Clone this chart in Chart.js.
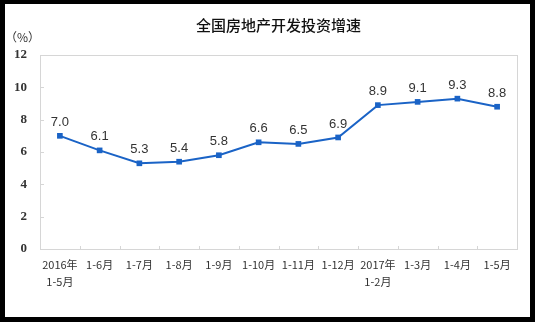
<!DOCTYPE html>
<html>
<head>
<meta charset="utf-8">
<script src="https://cdn.jsdelivr.net/npm/chart.js@4.4.1/dist/chart.umd.min.js"></script>
<style>
  html, body { margin: 0; padding: 0; background: #000; }
  #frame { position: absolute; left: 5px; top: 4px; width: 525px; height: 313px; background: #fff; }
  #unit { position: absolute; left: 0px; top: 24px; font: 12px "Noto Sans CJK SC"; color: #333; }
</style>
</head>
<body>
<div id="frame">
  <canvas id="growthChart" width="525" height="313"></canvas>
  <div id="unit">（%）</div>
</div>
<script>
const months = [['2016年', '1-5月'], '1-6月', '1-7月', '1-8月', '1-9月', '1-10月', '1-11月', '1-12月', ['2017年', '1-2月'], '1-3月', '1-4月', '1-5月'];
const growth = [7.0, 6.1, 5.3, 5.4, 5.8, 6.6, 6.5, 6.9, 8.9, 9.1, 9.3, 8.8];
const yTicks = [0, 2, 4, 6, 8, 10, 12];

const lineBlue = '#1a63c6';
const frameGray = '#d6d6d6';

// plot frame, little inner tick marks and the value labels
const decorations = {
    id: 'decorations',
    afterDatasetsDraw(chart) {
        const ctx = chart.ctx;
        const area = chart.chartArea;
        const x = chart.scales.x;
        const y = chart.scales.y;
        ctx.save();
        ctx.strokeStyle = frameGray;
        ctx.lineWidth = 1;
        ctx.strokeRect(Math.round(area.left) + 0.5, Math.round(area.top) + 0.5,
            Math.round(area.right - area.left), Math.round(area.bottom - area.top));
        ctx.beginPath();
        yTicks.forEach(v => {
            const py = Math.round(y.getPixelForValue(v)) + 0.5;
            ctx.moveTo(area.left, py);
            ctx.lineTo(area.left + 4, py);
        });
        for (let i = 1; i < months.length; i++) {
            const px = Math.round((x.getPixelForValue(i - 1) + x.getPixelForValue(i)) / 2) + 0.5;
            ctx.moveTo(px, area.bottom);
            ctx.lineTo(px, area.bottom - 3);
        }
        ctx.stroke();

        const meta = chart.getDatasetMeta(0);
        ctx.fillStyle = '#333';
        ctx.font = '13px "Liberation Sans", Arial';
        ctx.textAlign = 'center';
        ctx.textBaseline = 'bottom';
        meta.data.forEach((pt, i) => {
            ctx.fillText(growth[i].toFixed(1), pt.x, pt.y - 7);
        });
        ctx.restore();
    }
};

function LoadGrowthChart() {
    const ctx = document.getElementById('growthChart').getContext('2d');
    const growthChart = new Chart(ctx, {
        type: 'line',
        data: {
            labels: months,
            datasets: [
                {
                    label: '全国房地产开发投资增速',
                    data: growth,
                    borderColor: lineBlue,
                    backgroundColor: lineBlue,
                    borderWidth: 2,
                    pointStyle: 'rect',
                    pointRadius: 4,
                    pointBorderWidth: 0,
                    tension: 0,
                }
            ]
        },
        options: {
            responsive: false,
            animation: false,
            layout: { padding: { left: 0, right: 13, top: 0, bottom: 0 } },
            plugins: {
                legend: { display: false },
                tooltip: { enabled: false },
                title: {
                    display: true,
                    text: '全国房地产开发投资增速',
                    fullSize: false,
                    color: '#111',
                    font: { family: '"Noto Sans CJK SC"', size: 15, weight: '500', lineHeight: 1.2 },
                    padding: { top: 12, bottom: 21 }
                }
            },
            scales: {
                x: {
                    offset: true,
                    grid: { display: false, drawTicks: false },
                    border: { display: false },
                    ticks: {
                        color: '#333',
                        padding: 7,
                        autoSkip: false,
                        maxRotation: 0,
                        font: { family: '"Noto Sans CJK SC"', size: 11, lineHeight: 1.55 }
                    },
                    afterFit(scale) { scale.height = 68; }
                },
                y: {
                    min: 0,
                    max: 12,
                    grid: { display: false, drawTicks: false },
                    border: { display: false },
                    ticks: {
                        stepSize: 2,
                        color: '#333',
                        padding: 13,
                        font: { family: '"Liberation Serif"', size: 13, weight: 'bold' }
                    },
                    afterFit(scale) { scale.width = 35; }
                }
            }
        },
        plugins: [decorations]
    });
}

LoadGrowthChart();
</script>
</body>
</html>
